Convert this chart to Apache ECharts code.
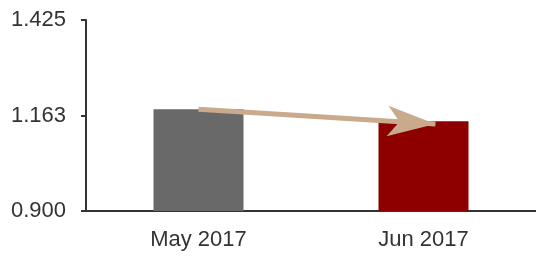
<!DOCTYPE html>
<html>
<head>
<meta charset="utf-8">
<script src="https://cdn.jsdelivr.net/npm/echarts@6/dist/echarts.min.js"></script>
<style>
  html, body { margin: 0; padding: 0; background: #fff; }
  #main { width: 536px; height: 258px; }
</style>
</head>
<body>
<div id="main"></div>
<script>
// months on the x axis
var months = ['May 2017', 'Jun 2017'];
// bar values
var values = [1.180, 1.147];
var barColors = ['#696969', '#8e0000'];
// y axis ticks
var yTickValues = [0.9, 1.1625, 1.425];
var yTickLabels = ['0.900', '1.163', '1.425'];
// arrow: [position along the months (0 = May, 1 = Jun), value]
var arrowFrom = [0, 1.180];
var arrowTo = [1.053, 1.139];

var myChart = echarts.init(document.getElementById('main'));

var barData = [];
for (var i = 0; i < values.length; i++) {
    barData.push({ value: values[i], itemStyle: { color: barColors[i] } });
}

var option = {
    animation: false,
    grid: { left: 86, right: -2, top: 20, bottom: 47 },
    xAxis: [{
        type: 'category',
        data: months,
        axisLine: { onZero: false, lineStyle: { color: '#333', width: 2 } },
        axisTick: { alignWithLabel: true, length: 5, lineStyle: { color: '#333', width: 2 } },
        axisLabel: { color: '#333', fontSize: 22, fontFamily: 'Liberation Sans', margin: 18 }
    }, {
        // hidden helper axis matching the category bands, used for the arrow
        type: 'value',
        min: -0.5,
        max: months.length - 0.5,
        show: false
    }],
    yAxis: {
        type: 'value',
        min: 0.9,
        max: 1.425,
        splitLine: { show: false },
        axisLine: { show: true, onZero: false, lineStyle: { color: '#333', width: 2 } },
        axisTick: { show: true, length: 5, customValues: yTickValues, lineStyle: { color: '#333', width: 2 } },
        axisLabel: {
            color: '#333', fontSize: 22, fontFamily: 'Liberation Sans', margin: 20,
            customValues: yTickValues,
            formatter: function (v) {
                var k = yTickValues.indexOf(v);
                return k >= 0 ? yTickLabels[k] : '';
            }
        }
    },
    series: [{
        type: 'bar',
        data: barData,
        barWidth: '40%'
    }, {
        type: 'line',
        xAxisIndex: 1,
        data: [],
        markLine: {
            silent: true,
            symbol: ['none', 'arrow'],
            symbolSize: [23, 48],
            label: { show: false },
            lineStyle: { color: '#c9aa8c', width: 5, type: 'solid' },
            emphasis: { disabled: true },
            data: [[{ coord: arrowFrom }, { coord: arrowTo }]]
        }
    }]
};
myChart.setOption(option);
</script>
</body>
</html>
